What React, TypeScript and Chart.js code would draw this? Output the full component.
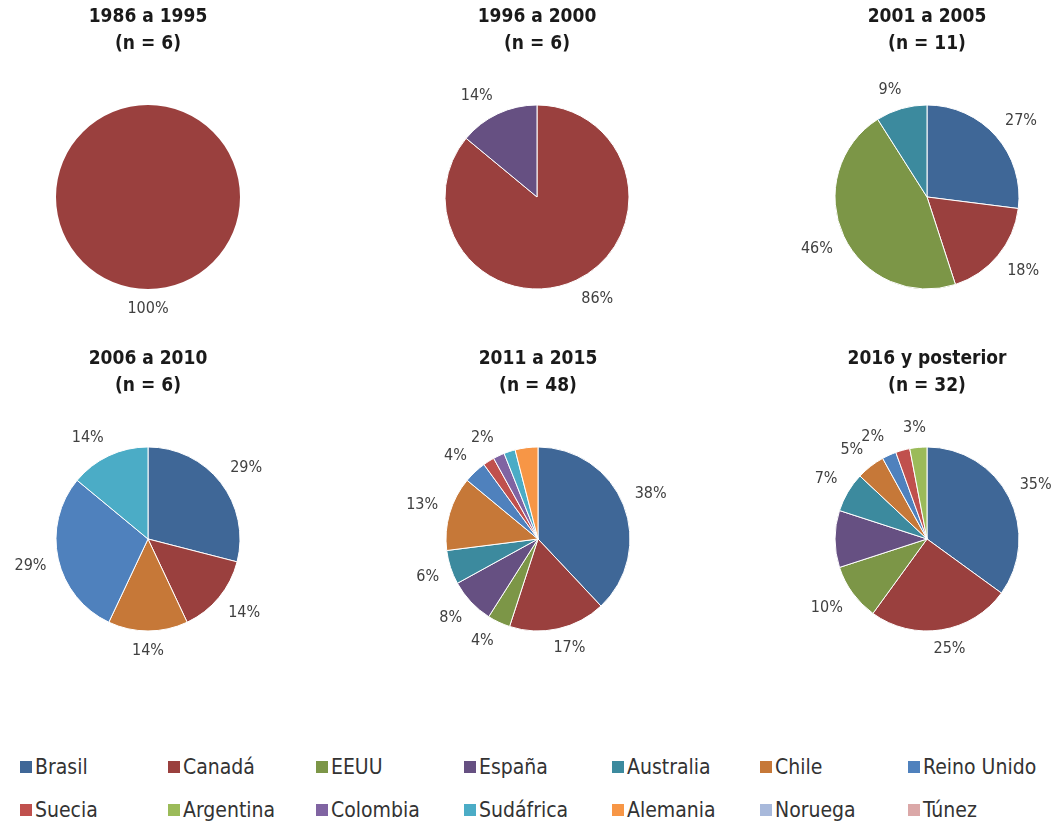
import React, { useEffect, useRef } from "react";
import { Chart, registerables } from "chart.js";

Chart.register(...registerables);

// ---------- data ----------
const countries = [
  "Brasil", "Canadá", "EEUU", "España", "Australia", "Chile", "Reino Unido",
  "Suecia", "Argentina", "Colombia", "Sudáfrica", "Alemania", "Noruega", "Túnez",
];

const countryColors = [
  "#3F6797", "#9A403E", "#7C9647", "#665082", "#3C8A9E", "#C67838", "#4F81BD",
  "#C0504D", "#9BBB59", "#8064A2", "#4BACC6", "#F79646", "#A8B9DB", "#DBA8A8",
];

const periodTitles = ["1986 a 1995", "1996 a 2000", "2001 a 2005", "2006 a 2010", "2011 a 2015", "2016 y posterior"];
const periodN = ["(n = 6)", "(n = 6)", "(n = 11)", "(n = 6)", "(n = 48)", "(n = 32)"];

// share (%) by country, in the order of `countries`
const share1986 = [0, 100, 0, 0, 0, 0, 0, 0, 0, 0, 0, 0, 0, 0];
const share1996 = [0, 86, 0, 14, 0, 0, 0, 0, 0, 0, 0, 0, 0, 0];
const share2001 = [27, 18, 46, 0, 9, 0, 0, 0, 0, 0, 0, 0, 0, 0];
const share2006 = [29, 14, 0, 0, 0, 14, 29, 0, 0, 0, 14, 0, 0, 0];
const share2011 = [38, 17, 4, 8, 6, 13, 4, 2, 0, 2, 2, 4, 0, 0];
const share2016 = [35, 25, 10, 10, 7, 5, 2.5, 2.5, 3, 0, 0, 0, 0, 0];

// visible data labels (empty = label hidden), same order
const labels1986 = ["", "100%", "", "", "", "", "", "", "", "", "", "", "", ""];
const labels1996 = ["", "86%", "", "14%", "", "", "", "", "", "", "", "", "", ""];
const labels2001 = ["27%", "18%", "46%", "", "9%", "", "", "", "", "", "", "", "", ""];
const labels2006 = ["29%", "14%", "", "", "", "14%", "29%", "", "", "", "14%", "", "", ""];
const labels2011 = ["38%", "17%", "4%", "8%", "6%", "13%", "4%", "", "", "2%", "", "", "", ""];
const labels2016 = ["35%", "25%", "10%", "", "7%", "5%", "2%", "", "3%", "", "", "", "", ""];

const periodShares = [share1986, share1996, share2001, share2006, share2011, share2016];
const periodLabels = [labels1986, labels1996, labels2001, labels2006, labels2011, labels2016];

// ---------- styling ----------
const FONT = "'DejaVu Sans Condensed', 'Liberation Sans Narrow', 'DejaVu Sans', sans-serif";
const BOX_W = 296;
const BOX_H = 330;
const CENTERS_X = [148, 537, 927, 148, 538, 927];
const ROW_TOPS = [0, 0, 0, 342, 342, 342];

const clamp = (v: number) => Math.max(-1, Math.min(1, v));

const outsideLabels = {
  id: "outsideLabels",
  afterDatasetsDraw(chart: any, _args: any, opts: any) {
    const texts: string[] = opts.texts || [];
    const meta = chart.getDatasetMeta(0);
    const ctx = chart.ctx;
    const size = 16;
    ctx.save();
    ctx.font = `normal ${size}px ${FONT}`;
    ctx.fillStyle = "#404040";
    ctx.textAlign = "center";
    ctx.textBaseline = "middle";
    meta.data.forEach((arc: any, i: number) => {
      const t = texts[i];
      if (!t) return;
      const p = arc.getProps(["x", "y", "startAngle", "endAngle", "outerRadius"], true);
      const mid = (p.startAngle + p.endAngle) / 2;
      const dx = Math.cos(mid);
      const dy = Math.sin(mid);
      const d = p.outerRadius + 12;
      const w = ctx.measureText(t).width;
      const h = size * 0.8;
      const k = 2.5;
      const lx = p.x + dx * d + (w / 2) * clamp(dx * k);
      const ly = p.y + dy * d + (h / 2 + 1) * clamp(dy * k);
      ctx.fillText(t, lx, ly);
    });
    ctx.restore();
  },
};

function PieBox({ index }: { index: number }) {
  const ref = useRef<HTMLCanvasElement | null>(null);
  useEffect(() => {
    if (!ref.current) return;
    const shares = periodShares[index];
    const lbls = periodLabels[index];
    const keep = shares.map((v, i) => i).filter((i) => shares[i] > 0);
    const chart = new Chart(ref.current, {
      type: "pie",
      data: {
        labels: keep.map((i) => countries[i]),
        datasets: [
          {
            data: keep.map((i) => shares[i]),
            backgroundColor: keep.map((i) => countryColors[i]),
            borderColor: "#ffffff",
            borderWidth: keep.length > 1 ? 1 : 0,
            hoverOffset: 0,
          },
        ],
      },
      options: {
        animation: false,
        responsive: false,
        radius: 92,
        layout: { padding: { bottom: 26 } },
        plugins: {
          legend: { display: false },
          tooltip: { enabled: false },
          title: {
            display: true,
            text: [periodTitles[index], periodN[index]],
            color: "#1a1a1a",
            font: { family: FONT, size: 19, weight: "bold", lineHeight: 1.42 },
            padding: { top: 4, bottom: 32 },
          },
          outsideLabels: { texts: keep.map((i) => lbls[i]) },
        } as any,
      },
      plugins: [outsideLabels as any],
    });
    return () => chart.destroy();
  }, [index]);
  return (
    <div
      style={{
        position: "absolute",
        left: CENTERS_X[index] - BOX_W / 2,
        top: ROW_TOPS[index],
        width: BOX_W,
        height: BOX_H,
      }}
    >
      <canvas ref={ref} width={BOX_W} height={BOX_H} style={{ width: BOX_W, height: BOX_H }} />
    </div>
  );
}

export default function App() {
  return (
    <div
      style={{
        position: "absolute",
        left: 0,
        top: 0,
        width: 1059,
        height: 825,
        overflow: "hidden",
        background: "#ffffff",
      }}
    >
      {periodTitles.map((_, i) => (
        <PieBox key={i} index={i} />
      ))}
      <div
        style={{
          position: "absolute",
          left: 20,
          top: 754,
          display: "grid",
          gridTemplateColumns: "repeat(7, 148px)",
          rowGap: 17,
          fontFamily: FONT,
          fontSize: 21,
          color: "#333333",
        }}
      >
        {countries.map((c, i) => (
          <div key={c} style={{ display: "flex", alignItems: "center", height: 26, whiteSpace: "nowrap" }}>
            <span
              style={{
                display: "inline-block",
                width: 12,
                height: 12,
                background: countryColors[i],
                marginRight: 3,
              }}
            />
            <span>{c}</span>
          </div>
        ))}
      </div>
    </div>
  );
}
